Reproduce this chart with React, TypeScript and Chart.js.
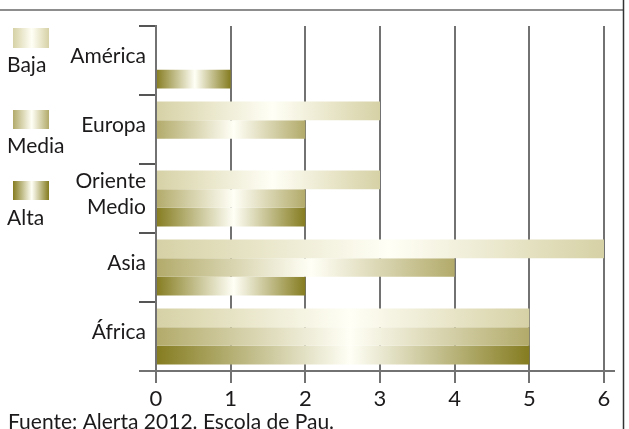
import React, { useEffect, useRef } from 'react';
import { Chart, registerables } from 'chart.js';

Chart.register(...registerables);

// ---- data ----
const categories = ['América', 'Europa', 'Oriente Medio', 'Asia', 'África'];
const seriesNames = ['Baja', 'Media', 'Alta'];
const baja = [0, 3, 3, 6, 5];
const media = [0, 2, 2, 4, 5];
const alta = [1, 0, 2, 2, 5];
const xTicks = [0, 1, 2, 3, 4, 5, 6];
const footerText = 'Fuente: Alerta 2012. Escola de Pau.';

// ---- styles ----
const FONT = 'Lato, "Noto Sans", sans-serif';
const TEXT = '#1c1a1b';
const edgeColors = ['#d6d1a5', '#b2aa6a', '#857c20'];
const HIGHLIGHT = '#fffff6';
const GRID = '#727272';

function makeGrad(ctx: CanvasRenderingContext2D, x0: number, x1: number, color: string) {
  if (!isFinite(x0) || !isFinite(x1) || x0 === x1) return color as any;
  const g = ctx.createLinearGradient(x0, 0, x1, 0);
  g.addColorStop(0, color);
  g.addColorStop(0.52, HIGHLIGHT);
  g.addColorStop(1, color);
  return g;
}

const decorPlugin = {
  id: 'decor',
  afterDatasetsDraw(chart: any) {
    const { ctx, chartArea } = chart;
    ctx.save();
    ctx.strokeStyle = GRID;
    ctx.lineWidth = 2;
    ctx.beginPath();
    ctx.moveTo(139, chartArea.bottom);
    ctx.lineTo(615, chartArea.bottom);
    ctx.stroke();
    ctx.restore();
  },
  afterDraw(chart: any) {
    const { ctx } = chart;
    ctx.save();
    // frame
    ctx.strokeStyle = '#8d8d8d';
    ctx.lineWidth = 2;
    ctx.beginPath();
    ctx.moveTo(0, 10);
    ctx.lineTo(623, 10);
    ctx.stroke();
    ctx.strokeStyle = '#333';
    ctx.lineWidth = 1.5;
    ctx.beginPath();
    ctx.moveTo(623.5, 0);
    ctx.lineTo(623.5, 429);
    ctx.stroke();

    // legend
    const swTop = [28, 110, 181];
    const swH = [20, 19, 19];
    const lblBase = [72, 153, 225];
    ctx.font = `21px ${FONT}`;
    ctx.textAlign = 'left';
    ctx.textBaseline = 'alphabetic';
    seriesNames.forEach((name, i) => {
      ctx.fillStyle = makeGrad(ctx, 13, 49, edgeColors[i]);
      ctx.fillRect(13, swTop[i], 36, swH[i]);
      ctx.fillStyle = TEXT;
      ctx.fillText(name, 7, lblBase[i]);
    });

    // footer
    ctx.font = `21px ${FONT}`;
    ctx.fillStyle = TEXT;
    ctx.fillText(footerText, 8, 429);
    ctx.restore();
  },
};

export default function App() {
  const ref = useRef<HTMLCanvasElement | null>(null);

  useEffect(() => {
    if (!ref.current) return;
    const series = [baja, media, alta];
    const chart = new Chart(ref.current, {
      type: 'bar',
      data: {
        labels: categories.map((c) => (c.includes(' ') ? c.split(' ') : c)),
        datasets: series.map((vals, i) => ({
          label: seriesNames[i],
          data: vals,
          borderWidth: 0,
          categoryPercentage: 0.81,
          barPercentage: 1,
          backgroundColor: (c: any) => {
            const edge = edgeColors[i];
            if (c.type !== 'data') return edge;
            const x = c.chart.scales?.x;
            const v = c.raw;
            if (!x || !v) return edge;
            return makeGrad(c.chart.ctx, x.getPixelForValue(0), x.getPixelForValue(v), edge);
          },
        })),
      },
      options: {
        indexAxis: 'y',
        animation: false,
        responsive: false,
        maintainAspectRatio: false,
        layout: { padding: { top: 26, right: 25, left: 0, bottom: 0 } },
        plugins: {
          legend: { display: false },
          tooltip: { enabled: false },
        },
        scales: {
          x: {
            type: 'linear',
            min: 0,
            max: 6,
            afterFit: (s: any) => {
              s.height = 58;
            },
            afterBuildTicks: (s: any) => {
              s.ticks = xTicks.map((v) => ({ value: v }));
            },
            border: { display: false },
            grid: {
              color: GRID,
              lineWidth: 2,
              drawTicks: true,
              tickLength: 12,
            },
            ticks: {
              color: TEXT,
              font: { family: FONT, size: 22 },
              padding: 3,
            },
          },
          y: {
            type: 'category',
            afterFit: (s: any) => {
              s.width = 156;
            },
            border: { display: true, color: GRID, width: 2 },
            grid: {
              offset: true,
              drawOnChartArea: false,
              drawTicks: true,
              tickLength: 17,
              color: '#555',
              lineWidth: 2,
            },
            ticks: {
              color: TEXT,
              font: { family: FONT, size: 21, lineHeight: 1.25 },
              padding: -7,
              labelOffset: -4,
            },
          },
        },
      },
      plugins: [decorPlugin],
    } as any);
    return () => chart.destroy();
  }, []);

  return (
    <div style={{ position: 'fixed', left: 0, top: 0, width: 629, height: 429, background: '#fff' }}>
      <canvas ref={ref} width={629} height={429} style={{ display: 'block', width: 629, height: 429 }} />
    </div>
  );
}
